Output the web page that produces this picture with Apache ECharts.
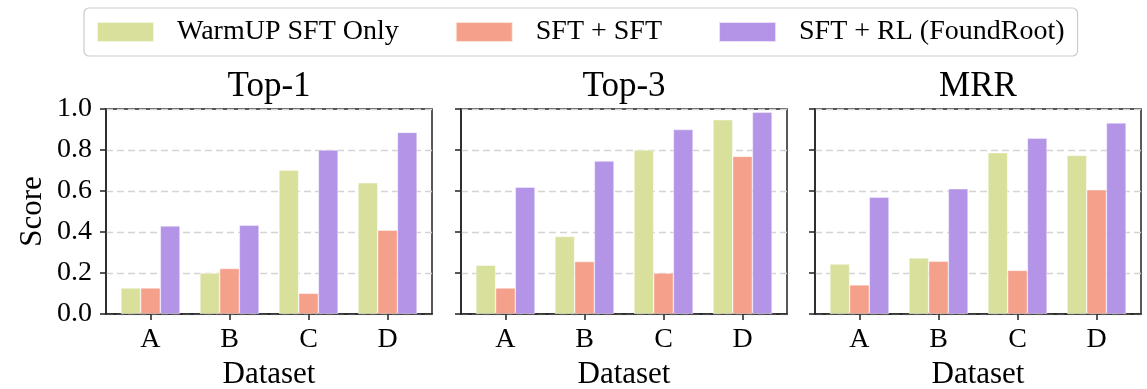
<!DOCTYPE html>
<html>
<head>
<meta charset="utf-8">
<script src="https://cdn.jsdelivr.net/npm/echarts@6/dist/echarts.min.js"></script>
<style>
  html, body { margin: 0; padding: 0; background: #fff; }
  #chart { width: 1147px; height: 389px; }
</style>
</head>
<body>
<div id="chart"></div>
<script>
var datasets = ["A", "B", "C", "D"];
var panels = ["Top-1", "Top-3", "MRR"];
var methods = ["WarmUP SFT Only", "SFT + SFT", "SFT + RL (FoundRoot)"];
var colors = ["#d9e09c", "#f4a08a", "#b494e6"];

// scores per panel, one array per method (A, B, C, D)
var top1Warm = [0.127, 0.200, 0.702, 0.640];
var top1Sft = [0.127, 0.222, 0.101, 0.409];
var top1Rl = [0.430, 0.433, 0.800, 0.886];

var top3Warm = [0.238, 0.378, 0.800, 0.948];
var top3Sft = [0.127, 0.256, 0.200, 0.769];
var top3Rl = [0.619, 0.746, 0.900, 0.984];

var mrrWarm = [0.244, 0.274, 0.787, 0.774];
var mrrSft = [0.142, 0.257, 0.213, 0.606];
var mrrRl = [0.570, 0.611, 0.858, 0.932];

var panelData = [
    [top1Warm, top1Sft, top1Rl],
    [top3Warm, top3Sft, top3Rl],
    [mrrWarm, mrrSft, mrrRl]
];

var serif = "Liberation Serif";
var gridLefts = [106, 461, 815];
var gridWidth = 326;
var gridTop = 109;
var gridHeight = 205;

var myChart = echarts.init(document.getElementById("chart"), null, { renderer: "canvas" });

var grids = [], xAxes = [], yAxes = [], titles = [], series = [];

for (var p = 0; p < panels.length; p++) {
    grids.push({
        left: gridLefts[p],
        top: gridTop,
        width: gridWidth,
        height: gridHeight,
        outerBoundsMode: "none",
        show: true,
        borderColor: "#222",
        borderWidth: 1.5,
        backgroundColor: "transparent"
    });
    titles.push({
        text: panels[p],
        left: gridLefts[p] + gridWidth / 2,
        textAlign: "center",
        top: 69,
        padding: 0,
        textStyle: { fontFamily: serif, fontSize: 35, fontWeight: "normal", color: "#000" }
    });
    xAxes.push({
        type: "value",
        gridIndex: p,
        min: -0.5625,
        max: 3.5625,
        name: "Dataset",
        nameLocation: "middle",
        nameGap: 45,
        nameTextStyle: { fontFamily: serif, fontSize: 31, color: "#000" },
        axisLine: { show: true, onZero: false, lineStyle: { color: "#222", width: 1.5 } },
        axisTick: { show: true, length: 6, customValues: [0, 1, 2, 3], lineStyle: { color: "#222", width: 1.5 } },
        axisLabel: {
            customValues: [0, 1, 2, 3],
            margin: 12,
            fontFamily: serif,
            fontSize: 28,
            color: "#000",
            formatter: function (v) { return datasets[Math.round(v)]; }
        },
        splitLine: { show: false }
    });
    yAxes.push({
        type: "value",
        gridIndex: p,
        min: 0,
        max: 1,
        interval: 0.2,
        name: p === 0 ? "Score" : "",
        nameLocation: "middle",
        nameGap: 58,
        nameTextStyle: { fontFamily: serif, fontSize: 31, color: "#000" },
        axisLine: { show: true, onZero: false, lineStyle: { color: "#222", width: 1.5 } },
        axisTick: { show: true, length: 6, lineStyle: { color: "#222", width: 1.5 } },
        axisLabel: {
            show: p === 0,
            margin: 14,
            fontFamily: serif,
            fontSize: 28,
            color: "#000",
            formatter: function (v) { return v.toFixed(1); }
        },
        splitLine: { show: true, lineStyle: { color: "#d4d4d4", width: 1.3, type: [7, 4] } }
    });
    for (var m = 0; m < methods.length; m++) {
        var vals = panelData[p][m];
        var pts = [];
        for (var i = 0; i < vals.length; i++) {
            pts.push([i, vals[i]]);
        }
        series.push({
            name: methods[m],
            type: "bar",
            xAxisIndex: p,
            yAxisIndex: p,
            data: pts,
            barWidth: 19.7,
            barGap: "0%",
            itemStyle: { color: colors[m], borderColor: "rgba(255,255,255,0.7)", borderWidth: 0.6 },
            emphasis: { disabled: true }
        });
    }
}

var option = {
    animation: false,
    backgroundColor: "#fff",
    title: titles,
    legend: {
        data: methods,
        left: 84,
        top: 8,
        padding: [10, 13, 10, 12],
        itemGap: 56,
        itemWidth: 57,
        itemHeight: 20,
        icon: "rect",
        borderColor: "#cccccc",
        borderWidth: 1.2,
        borderRadius: 5,
        textStyle: { fontFamily: serif, fontSize: 28, color: "#000", padding: [0, 0, 0, 18] }
    },
    grid: grids,
    xAxis: xAxes,
    yAxis: yAxes,
    series: series
};

myChart.setOption(option);
window.addEventListener("resize", function () {
    myChart.resize();
});
</script>
</body>
</html>
